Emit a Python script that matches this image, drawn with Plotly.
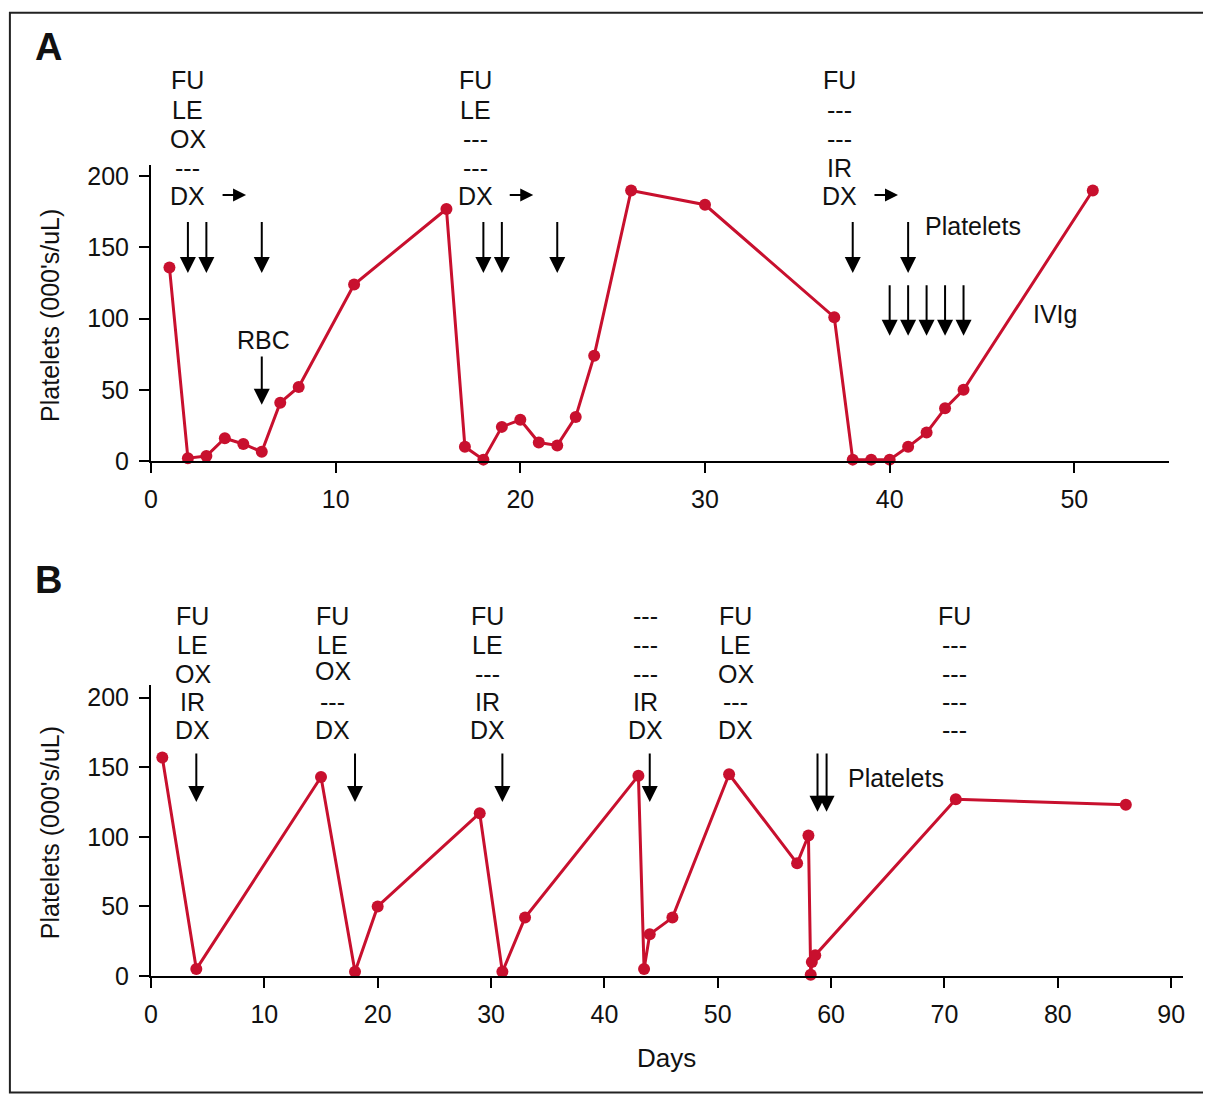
import plotly.graph_objects as go

# ---------------- data ----------------
a_days = [1, 2, 3, 4, 5, 6, 7, 8, 11, 16, 17, 18, 19, 20, 21, 22, 23, 24, 26, 30,
          37, 38, 39, 40, 41, 42, 43, 44, 51]
a_platelets = [136, 2, 3.5, 16, 12, 6.5, 41, 52, 124, 177, 10, 1, 24, 29, 13, 11, 31, 74, 190, 180,
               101, 1, 1, 1, 10, 20, 37, 50, 190]

b_days = [1, 4, 15, 18, 20, 29, 31, 33, 43, 43.5, 44, 46, 51, 57, 58, 58.2, 58.3, 58.6, 71, 86]
b_platelets = [157, 5, 143, 3, 50, 117, 3, 42, 144, 5, 30, 42, 145, 81, 101, 1, 10, 15, 127, 123]

a_x_ticks = [0, 10, 20, 30, 40, 50]
b_x_ticks = [0, 10, 20, 30, 40, 50, 60, 70, 80, 90]
y_ticks = [0, 50, 100, 150, 200]

# treatment column labels
a_col_days = [2.0, 17.55, 37.3]
a_col_labels = [["FU", "LE", "OX", "---", "DX"],
                ["FU", "LE", "---", "---", "DX"],
                ["FU", "---", "---", "IR", "DX"]]
b_col_days = [3.7, 16.05, 29.65, 43.6, 51.6, 70.9]
b_col_labels = [["FU", "LE", "OX", "IR", "DX"],
                ["FU", "LE", "OX", "---", "DX"],
                ["FU", "LE", "---", "IR", "DX"],
                ["---", "---", "---", "IR", "DX"],
                ["FU", "LE", "OX", "---", "DX"],
                ["FU", "---", "---", "---", "---"]]

# dosing arrow days
a_dose_days = [2, 3, 6, 18, 19, 22, 38]
a_platelet_tx_days = [41]
a_ivig_days = [40, 41, 42, 43, 44]
a_rbc_days = [6]
b_dose_days = [4, 18, 31, 44]
b_platelet_tx_days = [58.8, 59.6]

RED = "#c8102e"
FONT = "Liberation Sans, Arial, sans-serif"
W, H = 1205, 1100
# screen mapping compensation (screen = c + s * figure)
CX, SX = 14.1, 0.992
CY, SY = 11.2, 0.984


def px(p):
    return ((p - CX) / SX) / W


def py(p):
    return 1 - ((p - CY) / SY) / H


fig = go.Figure()
fig.add_trace(go.Scatter(x=a_days, y=a_platelets, mode="lines+markers", xaxis="x", yaxis="y",
                         line=dict(color=RED, width=3), marker=dict(color=RED, size=12),
                         cliponaxis=False, showlegend=False))
fig.add_trace(go.Scatter(x=b_days, y=b_platelets, mode="lines+markers", xaxis="x2", yaxis="y2",
                         line=dict(color=RED, width=3), marker=dict(color=RED, size=12),
                         cliponaxis=False, showlegend=False))

axis_common = dict(showline=True, linecolor="black", linewidth=2, ticks="outside", ticklen=10,
                   tickwidth=2, tickcolor="black", showgrid=False, zeroline=False,
                   tickfont=dict(family=FONT, size=25, color="#111"))

fig.update_layout(
    width=W, height=H, margin=dict(l=0, r=0, t=0, b=0),
    paper_bgcolor="white", plot_bgcolor="white",
    xaxis=dict(domain=[px(150), px(1167)], range=[0, 55.1], tickvals=a_x_ticks,
               anchor="y", ticklabelstandoff=5, **axis_common),
    yaxis=dict(domain=[py(461), py(165)], range=[0, 208], tickvals=y_ticks,
               anchor="x", ticklabelstandoff=5, **axis_common),
    xaxis2=dict(domain=[px(150), px(1181)], range=[0, 91], tickvals=b_x_ticks,
                anchor="y2", ticklabelstandoff=5, **axis_common),
    yaxis2=dict(domain=[py(975.7), py(685)], range=[0, 209], tickvals=y_ticks,
                anchor="x2", ticklabelstandoff=5, **axis_common),
)

ann = []


def text(x, y, s, xref="paper", yref="paper", size=25, bold=False, angle=0, xanchor="center"):
    ann.append(dict(x=x, y=y, xref=xref, yref=yref, text=("<b>%s</b>" % s) if bold else s,
                    showarrow=False, textangle=angle, xanchor=xanchor, yanchor="middle",
                    font=dict(family=FONT, size=size, color="#111")))


def varrow(x, y_tip, y_tail, xref, yref):
    ann.append(dict(x=x, y=y_tip, ax=x, ay=y_tail, xref=xref, yref=yref, axref=xref, ayref=yref,
                    text="", showarrow=True, arrowhead=2, arrowsize=1.6, arrowwidth=2,
                    arrowcolor="black", standoff=0))


def harrow(x_tip, y_paper, xref):
    ann.append(dict(x=x_tip, y=y_paper, xref=xref, yref="paper", ax=-25, ay=0,
                    text="", showarrow=True, arrowhead=2, arrowsize=1.3, arrowwidth=2,
                    arrowcolor="black", standoff=0))


# panel letters
text(px(48), py(47), "A", size=38, bold=True)
text(px(48), py(580), "B", size=38, bold=True)

# y titles
text(px(49), py(315), "Platelets (000's/uL)", angle=-90, size=25)
text(px(49), py(832), "Platelets (000's/uL)", angle=-90, size=25)
# x title
text(px(665), py(1058), "Days", size=26)

# column labels panel A
a_rows = [80, 110, 139, 168, 196]
for d, labels in zip(a_col_days, a_col_labels):
    for r, s in zip(a_rows, labels):
        text(d, py(r), s, xref="x")
    harrow(d + 3.15, py(195), "x")

# column labels panel B
b_rows = [616, 645, 674, 702, 730]
for d, labels in zip(b_col_days, b_col_labels):
    for r, s in zip(b_rows, labels):
        yy = r - 3 if (s == "OX" and d == b_col_days[1]) else r
        text(d, py(yy), s, xref="x2")

# arrows panel A
for d in a_dose_days:
    varrow(d, 132, 169, "x", "y")
for d in a_platelet_tx_days:
    varrow(d, 132, 169, "x", "y")
for d in a_ivig_days:
    varrow(d, 88, 124.5, "x", "y")
for d in a_rbc_days:
    varrow(d, 39.5, 74.5, "x", "y")
text(6.1, 85, "RBC", xref="x", yref="y")
text(41.8, 165, "Platelets", xref="x", yref="y", xanchor="left")
text(48.95, 103, "IVIg", xref="x", yref="y")

# arrows panel B
for d in b_dose_days:
    varrow(d, 125, 161, "x2", "y2")
for d in b_platelet_tx_days:
    varrow(d, 118, 161, "x2", "y2")
text(61.3, 142, "Platelets", xref="x2", yref="y2", xanchor="left")

fig.update_layout(annotations=ann)

# outer frame (top edge kept inside the drawable area)
fig.add_shape(type="rect", xref="paper", yref="paper", x0=px(9), x1=px(1207), y0=py(1092), y1=py(13),
              line=dict(color="#222", width=2), fillcolor="rgba(0,0,0,0)")

fig.write_html("out.html")
